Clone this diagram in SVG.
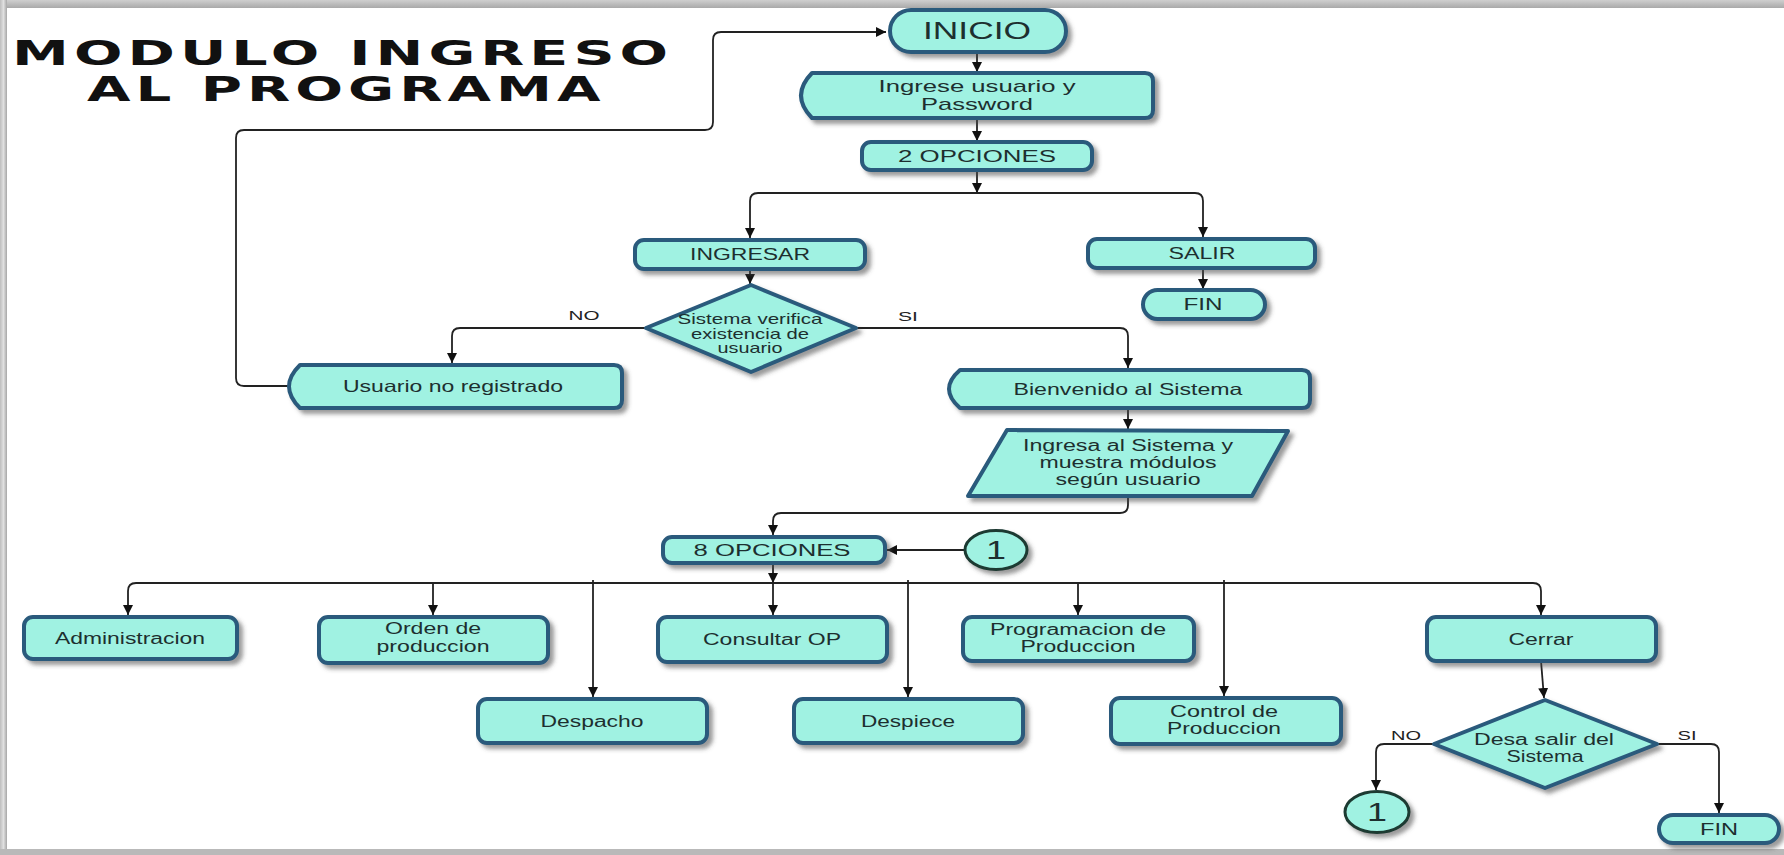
<svg xmlns="http://www.w3.org/2000/svg" width="1784" height="855" viewBox="0 0 1784 855">
  <defs>
    <filter id="shadow" x="-10%" y="-20%" width="130%" height="160%">
      <feDropShadow dx="4" dy="4" stdDeviation="2" flood-color="#4a4a4a" flood-opacity="0.55"/>
    </filter>
    <marker id="arrow" markerUnits="userSpaceOnUse" markerWidth="11" markerHeight="10" refX="10" refY="5" orient="auto">
      <path d="M0,0 L10,5 L0,10 Z" fill="#111"/>
    </marker>
    <linearGradient id="frameTop" x1="0" y1="0" x2="0" y2="1">
      <stop offset="0" stop-color="#cfcfcf"/>
      <stop offset="1" stop-color="#a9a9a9"/>
    </linearGradient>
    <linearGradient id="frameLeft" x1="0" y1="0" x2="1" y2="0">
      <stop offset="0" stop-color="#bdbdbd"/>
      <stop offset="0.5" stop-color="#e0e0e0"/>
      <stop offset="1" stop-color="#a6a6a6"/>
    </linearGradient>
  </defs>
  <style>
    .shape { fill: #a0f2e2; stroke: #2a5a7b; stroke-width: 4; stroke-linejoin: round; filter: url(#shadow); }
    .conn { fill: #a0f2e2; stroke: #1d3a33; stroke-width: 3; filter: url(#shadow); }
    .t { font-family: "Liberation Sans", Arial, sans-serif; font-size: 16px; fill: #1d2f2f; text-anchor: middle; }
    .lbl { font-family: "Liberation Sans", Arial, sans-serif; font-size: 13px; fill: #222; text-anchor: middle; }
    .title { font-family: "DejaVu Sans", "Liberation Sans", sans-serif; font-weight: bold; font-size: 34px; letter-spacing: 3px; fill: #111; }
    .line { fill: none; stroke: #222; stroke-width: 1.8; }
    .line.arr { marker-end: url(#arrow); }
  </style>

  <rect width="1784" height="855" fill="#ffffff"/>
  <!-- picture frame -->
  <rect x="0" y="0" width="1784" height="8" fill="url(#frameTop)"/>
  <rect x="0" y="0" width="7" height="855" fill="url(#frameLeft)"/>
  <rect x="0" y="849" width="1784" height="6" fill="#b9b9b9"/>

  <!-- title: extended lettering (glyphs widened by a horizontal scale) -->
  <g id="title">
    <text class="title" transform="translate(12,65) scale(1.68,1)">MODULO INGRESO</text>
    <text class="title" transform="translate(87,101) scale(1.655,1)">AL PROGRAMA</text>
  </g>

  <!-- connectors -->
  <g id="connectors">
    <path class="line arr" d="M289,386 H244 Q236,386 236,378 V138 Q236,130 244,130 H705 Q713,130 713,122 V40 Q713,32 721,32 H886"/>
    <path class="line arr" d="M977,52 V72"/>
    <path class="line arr" d="M977,118 V141"/>
    <path class="line arr" d="M977,170 V193"/>
    <path class="line arr" d="M977,193 H758 Q750,193 750,201 V238"/>
    <path class="line arr" d="M977,193 H1195 Q1203,193 1203,201 V237"/>
    <path class="line arr" d="M1203,268 V289"/>
    <path class="line arr" d="M750,269 V284"/>
    <path class="line arr" d="M646,328 H460 Q452,328 452,336 V363"/>
    <path class="line arr" d="M856,328 H1120 Q1128,328 1128,336 V368"/>
    <path class="line arr" d="M1128,408 V429"/>
    <path class="line arr" d="M1128,496 V505 Q1128,513 1120,513 H781 Q773,513 773,521 V535"/>
    <path class="line arr" d="M965,550 H887"/>
    <path class="line arr" d="M773,563 V583"/>
    <path class="line" d="M136,583 H1533"/>
    <path class="line arr" d="M136,583 Q128,583 128,591 V615"/>
    <path class="line arr" d="M433,583 V615"/>
    <path class="line arr" d="M593,580 V697"/>
    <path class="line arr" d="M773,583 V615"/>
    <path class="line arr" d="M908,580 V697"/>
    <path class="line arr" d="M1078,583 V615"/>
    <path class="line arr" d="M1224,580 V696"/>
    <path class="line arr" d="M1533,583 Q1541,583 1541,591 V615"/>
    <path class="line arr" d="M1541,661 L1544,698"/>
    <path class="line arr" d="M1434,744 H1384 Q1376,744 1376,752 V790"/>
    <path class="line arr" d="M1657,744 H1711 Q1719,744 1719,752 V813"/>
    <text class="lbl" x="584" y="320" textLength="31" lengthAdjust="spacingAndGlyphs">NO</text>
    <text class="lbl" x="908" y="321" textLength="20" lengthAdjust="spacingAndGlyphs">SI</text>
    <text class="lbl" x="1406" y="740" textLength="30" lengthAdjust="spacingAndGlyphs">NO</text>
    <text class="lbl" x="1687" y="740" textLength="19" lengthAdjust="spacingAndGlyphs">SI</text>
  </g>

  <!-- start -->
  <g id="inicio">
    <rect class="shape" x="890" y="10" width="176" height="42" rx="21"/>
    <text class="t" x="977" y="39" style="font-size:23px" textLength="108" lengthAdjust="spacingAndGlyphs">INICIO</text>
  </g>

  <g id="ingrese-usuario">
    <path class="shape" d="M812,73 H1145 Q1153,73 1153,81 V110 Q1153,118 1145,118 H812 Q790,95.5 812,73 Z"/>
    <text class="t" x="977" y="92" style="font-size:17px" textLength="197" lengthAdjust="spacingAndGlyphs">Ingrese usuario y</text>
    <text class="t" x="977" y="110" style="font-size:17px" textLength="112" lengthAdjust="spacingAndGlyphs">Password</text>
  </g>

  <g id="dos-opciones">
    <rect class="shape" x="862" y="142" width="230" height="28" rx="9"/>
    <text class="t" x="977" y="162" textLength="158" lengthAdjust="spacingAndGlyphs">2 OPCIONES</text>
  </g>

  <g id="ingresar">
    <rect class="shape" x="635" y="240" width="230" height="29" rx="9"/>
    <text class="t" x="750" y="260" textLength="120" lengthAdjust="spacingAndGlyphs">INGRESAR</text>
  </g>

  <g id="salir">
    <rect class="shape" x="1088" y="239" width="227" height="29" rx="9"/>
    <text class="t" x="1202" y="259" textLength="67" lengthAdjust="spacingAndGlyphs">SALIR</text>
  </g>

  <g id="fin-salir">
    <rect class="shape" x="1143" y="290" width="122" height="29" rx="14.5"/>
    <text class="t" x="1203" y="310" textLength="39" lengthAdjust="spacingAndGlyphs">FIN</text>
  </g>

  <g id="verifica-usuario">
    <path class="shape" d="M646,328 L751,285 L856,328 L751,372 Z"/>
    <text class="t" x="750" y="324" style="font-size:14.5px" textLength="145" lengthAdjust="spacingAndGlyphs">Sistema verifica</text>
    <text class="t" x="750" y="339" style="font-size:14.5px" textLength="118" lengthAdjust="spacingAndGlyphs">existencia de</text>
    <text class="t" x="750" y="353" style="font-size:14.5px" textLength="65" lengthAdjust="spacingAndGlyphs">usuario</text>
  </g>

  <g id="usuario-no-registrado">
    <path class="shape" d="M300,365 H614 Q622,365 622,373 V400 Q622,408 614,408 H300 Q278,386.5 300,365 Z"/>
    <text class="t" x="453" y="392" style="font-size:16.5px" textLength="220" lengthAdjust="spacingAndGlyphs">Usuario no registrado</text>
  </g>

  <g id="bienvenido">
    <path class="shape" d="M960,370 H1302 Q1310,370 1310,378 V400 Q1310,408 1302,408 H960 Q938,389 960,370 Z"/>
    <text class="t" x="1128" y="395" style="font-size:16.5px" textLength="229" lengthAdjust="spacingAndGlyphs">Bienvenido al Sistema</text>
  </g>

  <g id="muestra-modulos">
    <path class="shape" d="M1007,430 L1288,431 L1252,496 L968,496 Z"/>
    <text class="t" x="1128" y="451" textLength="210" lengthAdjust="spacingAndGlyphs">Ingresa al Sistema y</text>
    <text class="t" x="1128" y="468" textLength="177" lengthAdjust="spacingAndGlyphs">muestra módulos</text>
    <text class="t" x="1128" y="485" textLength="145" lengthAdjust="spacingAndGlyphs">según usuario</text>
  </g>

  <g id="ocho-opciones">
    <rect class="shape" x="663" y="537" width="222" height="26" rx="9"/>
    <text class="t" x="772" y="556" textLength="157" lengthAdjust="spacingAndGlyphs">8 OPCIONES</text>
  </g>

  <g id="conector-1-entrada">
    <ellipse class="conn" cx="996" cy="550" rx="31" ry="19.5"/>
    <text class="t" x="996" y="559" style="font-size:26px" textLength="20" lengthAdjust="spacingAndGlyphs">1</text>
  </g>

  <g id="administracion">
    <rect class="shape" x="24" y="617" width="213" height="42" rx="9"/>
    <text class="t" x="130" y="644" textLength="150" lengthAdjust="spacingAndGlyphs">Administracion</text>
  </g>

  <g id="orden-produccion">
    <rect class="shape" x="319" y="617" width="229" height="46" rx="9"/>
    <text class="t" x="433" y="634" textLength="96" lengthAdjust="spacingAndGlyphs">Orden de</text>
    <text class="t" x="433" y="652" textLength="113" lengthAdjust="spacingAndGlyphs">produccion</text>
  </g>

  <g id="consultar-op">
    <rect class="shape" x="658" y="617" width="229" height="45" rx="9"/>
    <text class="t" x="772" y="645" textLength="138" lengthAdjust="spacingAndGlyphs">Consultar OP</text>
  </g>

  <g id="programacion-produccion">
    <rect class="shape" x="963" y="617" width="231" height="44" rx="9"/>
    <text class="t" x="1078" y="635" textLength="176" lengthAdjust="spacingAndGlyphs">Programacion de</text>
    <text class="t" x="1078" y="652" textLength="115" lengthAdjust="spacingAndGlyphs">Produccion</text>
  </g>

  <g id="cerrar">
    <rect class="shape" x="1427" y="617" width="229" height="44" rx="9"/>
    <text class="t" x="1541" y="645" textLength="65" lengthAdjust="spacingAndGlyphs">Cerrar</text>
  </g>

  <g id="despacho">
    <rect class="shape" x="478" y="699" width="229" height="44" rx="9"/>
    <text class="t" x="592" y="727" textLength="103" lengthAdjust="spacingAndGlyphs">Despacho</text>
  </g>

  <g id="despiece">
    <rect class="shape" x="794" y="699" width="229" height="44" rx="9"/>
    <text class="t" x="908" y="727" textLength="94" lengthAdjust="spacingAndGlyphs">Despiece</text>
  </g>

  <g id="control-produccion">
    <rect class="shape" x="1111" y="698" width="230" height="46" rx="9"/>
    <text class="t" x="1224" y="717" textLength="108" lengthAdjust="spacingAndGlyphs">Control de</text>
    <text class="t" x="1224" y="734" textLength="114" lengthAdjust="spacingAndGlyphs">Produccion</text>
  </g>

  <g id="desea-salir">
    <path class="shape" d="M1434,744 L1545,700 L1657,744 L1545,788 Z"/>
    <text class="t" x="1544" y="745" textLength="140" lengthAdjust="spacingAndGlyphs">Desa salir del</text>
    <text class="t" x="1545" y="762" textLength="77" lengthAdjust="spacingAndGlyphs">Sistema</text>
  </g>

  <g id="conector-1-salida">
    <ellipse class="conn" cx="1377" cy="812" rx="32" ry="20.5"/>
    <text class="t" x="1377" y="821" style="font-size:26px" textLength="20" lengthAdjust="spacingAndGlyphs">1</text>
  </g>

  <g id="fin-cerrar">
    <rect class="shape" x="1659" y="815" width="120" height="28" rx="14"/>
    <text class="t" x="1719" y="835" textLength="38" lengthAdjust="spacingAndGlyphs">FIN</text>
  </g>
</svg>
